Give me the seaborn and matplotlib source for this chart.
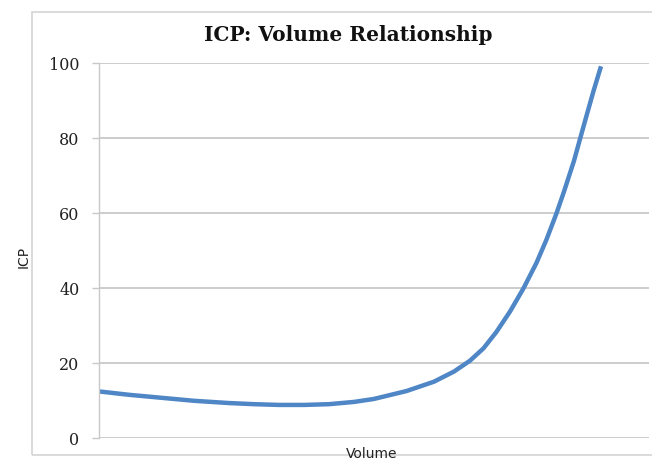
import matplotlib
matplotlib.use("Agg")
import matplotlib.pyplot as plt
import seaborn as sns
import pandas as pd
from matplotlib.patches import Rectangle

# Data
volume = [0, 6, 12.5, 19, 26, 31, 36, 41, 46, 51, 55, 61.5, 67, 71, 74.2, 76.9, 79.5, 82.2,
          84.9, 87.5, 89.5, 91.5, 93, 95, 96.2, 97.5, 98.9, 100.4]
icp = [12.5, 11.6, 10.8, 10.0, 9.4, 9.1, 8.9, 8.9, 9.1, 9.7, 10.5, 12.6, 15.1, 17.8, 20.7, 24.0, 28.4, 33.8,
       40.0, 46.8, 53.0, 60.0, 65.8, 74.0, 79.8, 86.0, 92.6, 99.2]
y_ticks = [0, 20, 40, 60, 80, 100]

df = pd.DataFrame({"Volume": volume, "ICP": icp})

sns.set_theme(style="white")
W, H = 652, 463
fig = plt.figure(figsize=(W / 100, H / 100), dpi=100)
fig.patch.set_facecolor("white")

# outer chart border
fig.patches.append(Rectangle((32 / W, 1 - 455 / H), (W + 20 - 32) / W, (455 - 11.7) / H,
                             transform=fig.transFigure, fill=False,
                             edgecolor="#d4d4d4", linewidth=1.2, zorder=0))

ax = fig.add_axes([99 / W, 1 - 438.3 / H, (649 - 99) / W, (438.3 - 63.3) / H])
ax.set_facecolor("white")

sns.lineplot(data=df, x="Volume", y="ICP", ax=ax, color="#4f86c6", linewidth=3.2,
             solid_capstyle="butt", solid_joinstyle="round")

ax.set_xlim(0, 110)
ax.set_ylim(0, 100)
ax.set_yticks(y_ticks)
ax.set_yticklabels([str(t) for t in y_ticks], family="DejaVu Serif", fontsize=11.5, color="#222222")
ax.set_xticks([])
ax.yaxis.grid(True, color="#c8c8c8", linewidth=1.3)
ax.set_axisbelow(True)
ax.tick_params(axis="y", which="major", length=5, width=1, color="#c8c8c8", pad=9, left=True)

for s in ["top", "right", "bottom"]:
    ax.spines[s].set_visible(False)
ax.spines["left"].set_color("#c8c8c8")
ax.spines["left"].set_linewidth(1.0)

ax.set_xlabel("")
ax.set_ylabel("")
fig.text(348 / W, 1 - 35 / H, "ICP: Volume Relationship", family="DejaVu Serif",
         fontweight="bold", fontsize=14.5, ha="center", va="center", color="#111111")
fig.text(24 / W, 1 - 257 / H, "ICP", family="DejaVu Sans", fontsize=10, rotation=90,
         ha="center", va="center", color="#222222")
fig.text(372 / W, 1 - 461 / H, "Volume", family="DejaVu Sans", fontsize=10,
         ha="center", va="bottom", color="#222222")

fig.savefig("out.png", dpi=100, facecolor="white")
